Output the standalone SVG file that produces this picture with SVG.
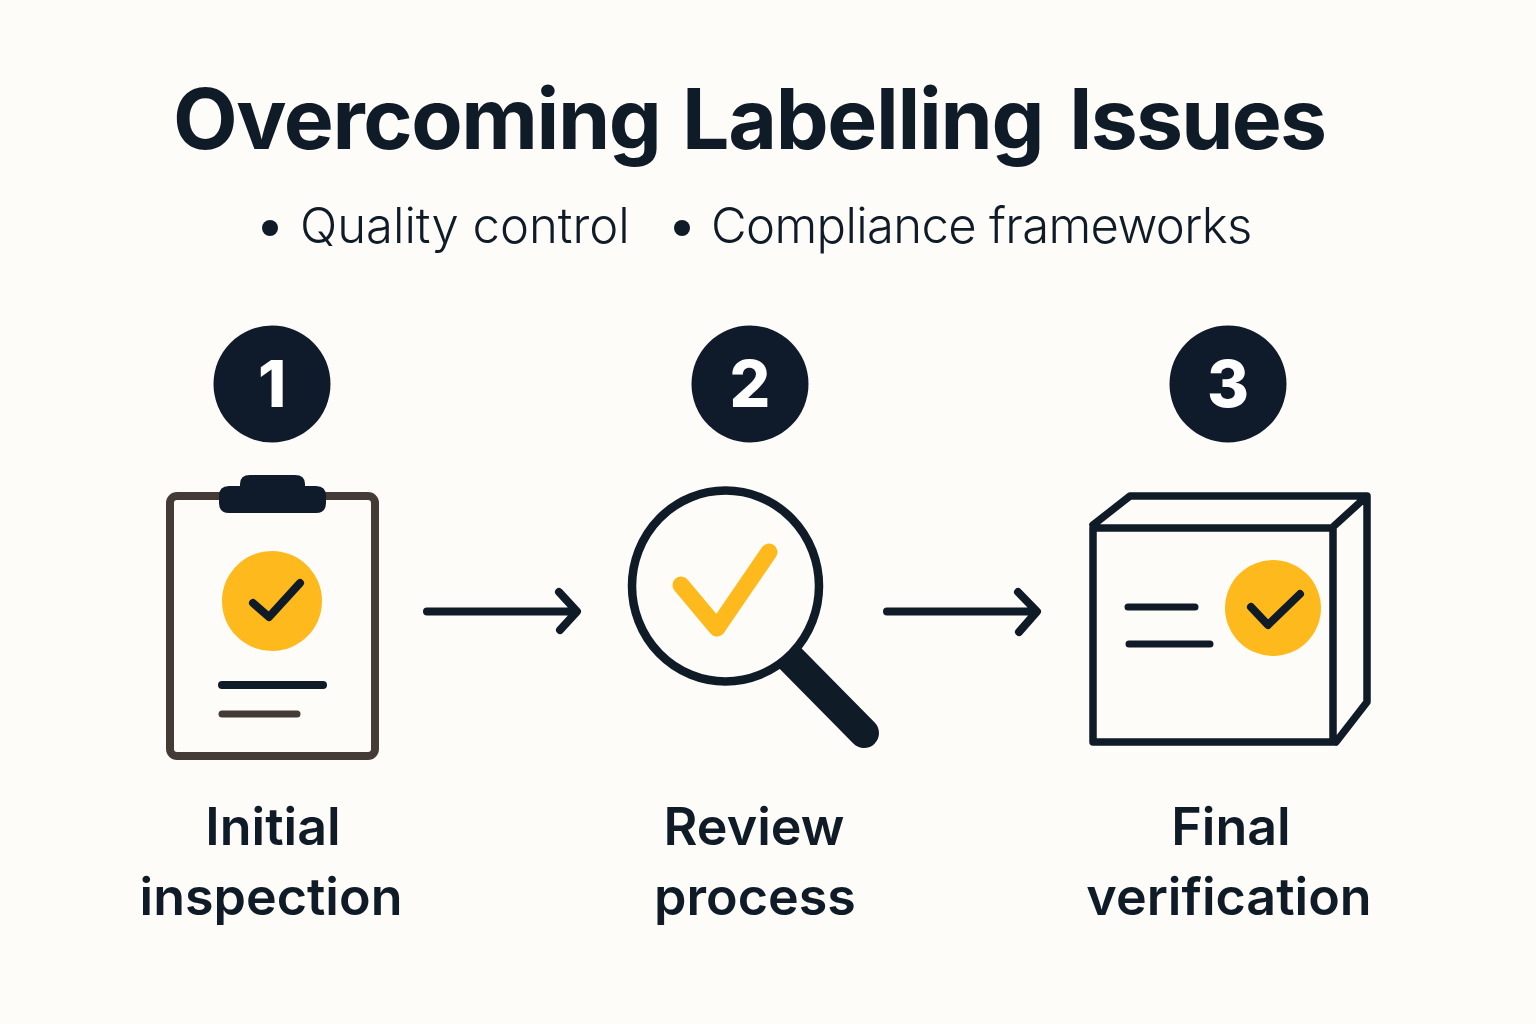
<svg xmlns="http://www.w3.org/2000/svg" width="1536" height="1024" viewBox="0 0 1536 1024">
<style>
.t{font-family:Inter,"Liberation Sans",sans-serif;fill:#0f1b27}
.title{font-size:84px;font-weight:700;letter-spacing:-1.3px}
.sub{font-size:49px;font-weight:300}
.lab{font-size:52px;font-weight:600;text-anchor:middle}
.num{font-size:64px;font-weight:800;fill:#fff;text-anchor:middle}
.s{fill:none;stroke:#0f1b27;stroke-linecap:round;stroke-linejoin:round}
.y{fill:#feb91c}
</style>
<rect width="1536" height="1024" fill="#fefcf9"/>
<text class="t title" y="149"><tspan x="173" letter-spacing="-1.4">Overcoming</tspan><tspan x="682">Labelling</tspan><tspan x="1069" letter-spacing="-1.8">Issues</tspan></text>
<circle cx="270" cy="228" r="8" fill="#0f1b27"/>
<text class="t sub" x="300" y="243">Quality control</text>
<circle cx="682" cy="228" r="8" fill="#0f1b27"/>
<text class="t sub" x="711" y="243" letter-spacing="-0.65">Compliance frameworks</text>
<g id="step1">
<circle cx="272" cy="384" r="58.5" fill="#0f1b2a"/>
<text class="t num" x="272" y="407">1</text>
<rect x="170" y="496" width="205" height="260" rx="7" fill="#fefcf9" stroke="#443a36" stroke-width="8"/>
<path d="M240 486V484Q240 475 250 475H295Q305 475 305 484V486H316Q326 486 326 496V503Q326 513 316 513H229Q219 513 219 503V496Q219 486 229 486Z" fill="#0f1b2a"/>
<circle class="y" cx="272" cy="601" r="50"/>
<path class="s" stroke-width="8" d="M253 603L269 617L300 583"/>
<path class="s" stroke-width="8" d="M222 685H323"/>
<path fill="none" stroke="#443a36" stroke-linecap="round" stroke-width="7" d="M222 714H297"/>
<text class="t lab" x="273" y="845">Initial</text>
<text class="t lab" x="271" y="915">inspection</text>
</g>
<g id="step2">
<circle cx="750" cy="384" r="58.5" fill="#0f1b2a"/>
<text class="t num" x="750" y="407">2</text>
<path class="s" stroke-width="30" d="M791 659L864 733"/>
<ellipse cx="725.5" cy="586" rx="93.5" ry="95.5" fill="#fefcf9" stroke="#0f1b27" stroke-width="8.5"/>
<path d="M681 585L717 628L769 552" fill="none" stroke="#feb91c" stroke-width="17" stroke-linecap="round" stroke-linejoin="round"/>
<text class="t lab" x="754" y="845">Review</text>
<text class="t lab" x="755" y="915">process</text>
</g>
<g id="step3">
<circle cx="1228" cy="384" r="58.5" fill="#0f1b2a"/>
<text class="t num" x="1228" y="407">3</text>
<path class="s" stroke-width="7.5" d="M1093 528H1333V742H1093ZM1093 525L1130 496H1367L1334 526M1367 496V702L1336 742"/>
<path class="s" stroke-width="7" d="M1128 607H1195M1129 644H1210"/>
<circle class="y" cx="1273" cy="608" r="48"/>
<path class="s" stroke-width="8" d="M1251 607L1268 625L1300 594"/>
<text class="t lab" x="1231" y="845">Final</text>
<text class="t lab" x="1229" y="915">verification</text>
</g>
<g id="connectors">
<path class="s" stroke-width="8" d="M427 611.5H576M559 592L577 611.5L560 630"/>
<path class="s" stroke-width="8" d="M887 611.5H1036M1018 592L1037 611.5L1019 632"/>
</g>
</svg>
